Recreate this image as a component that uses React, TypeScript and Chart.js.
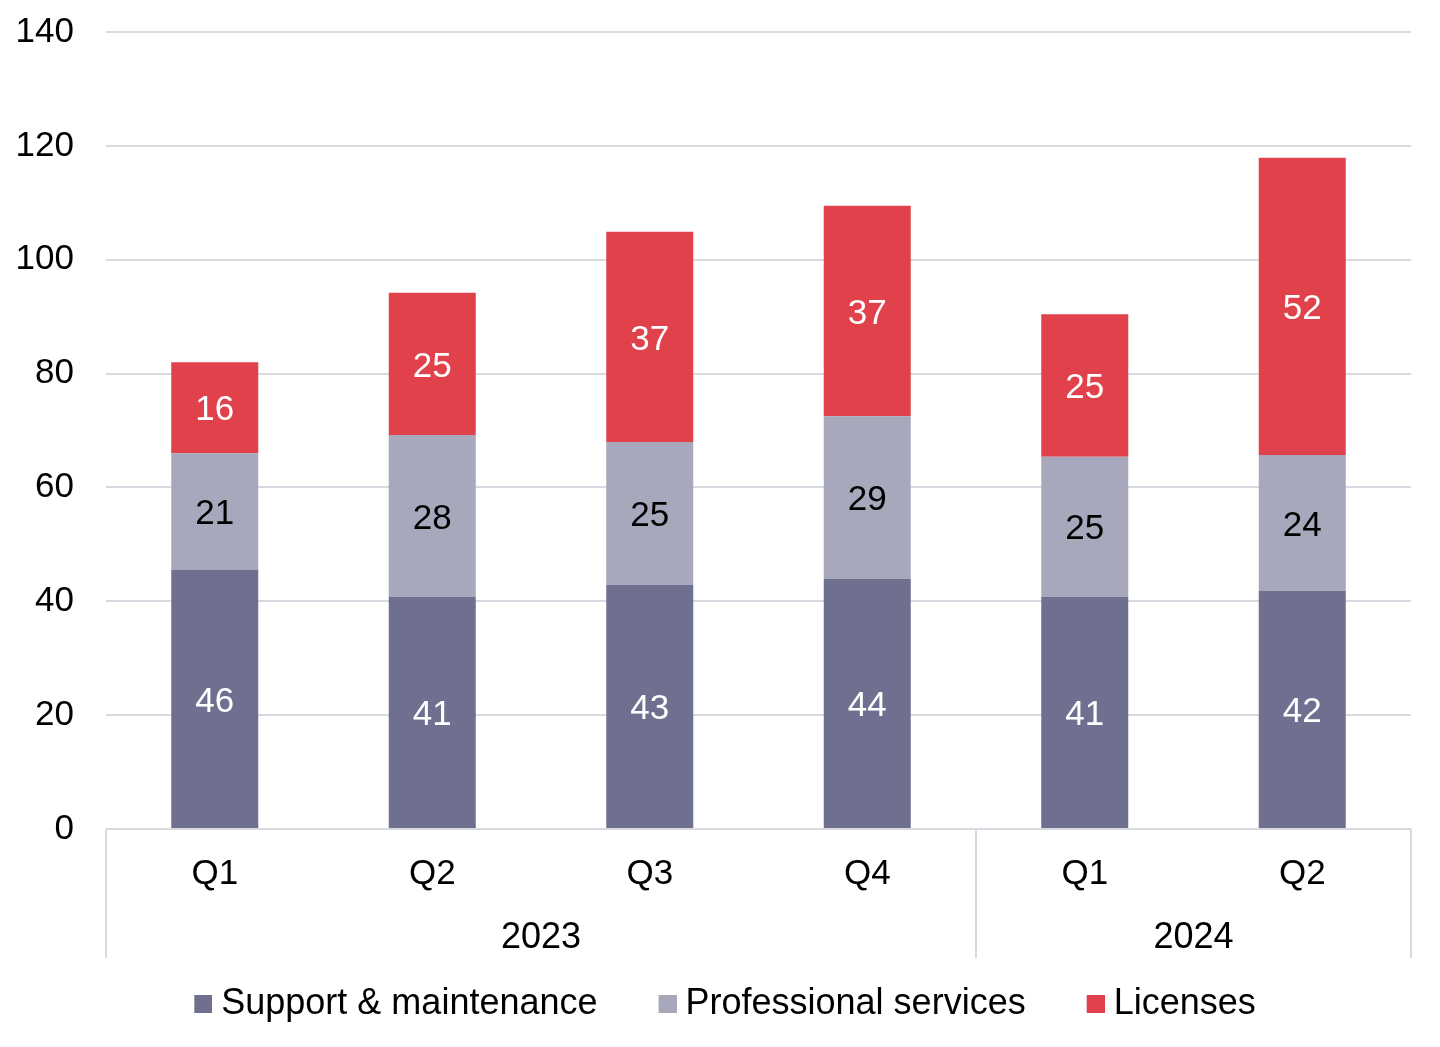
import React, { useEffect, useRef } from "react";
import { Chart, registerables } from "chart.js";

Chart.register(...registerables);

const quarters = ["Q1", "Q2", "Q3", "Q4", "Q1", "Q2"];
const years = ["2023", "2024"];
const quartersPerYear = [4, 2];
const supportMaintenance = [45.5, 40.8, 42.9, 43.9, 40.8, 41.8];
const professionalServices = [20.5, 28.4, 25.1, 28.6, 24.6, 23.9];
const licenses = [16.0, 25.0, 36.9, 37.0, 25.0, 52.2];
const seriesNames = ["Support & maintenance", "Professional services", "Licenses"];
const seriesColors = ["#6f7090", "#a7a8bb", "#e0414a"];
const labelColors = ["#ffffff", "#000000", "#ffffff"];
const yMin = 0;
const yMax = 140;
const yStep = 20;

const FONT = "'Liberation Sans', Arial, sans-serif";
const GRID = "#d9d9e2";

function makeSwatch(color: string) {
  const c = document.createElement("canvas");
  c.width = 27;
  c.height = 18;
  const g = c.getContext("2d");
  if (g) {
    g.fillStyle = color;
    g.fillRect(9, 0, 18, 18);
  }
  return c;
}

const barLabelPlugin = {
  id: "barLabels",
  afterDatasetsDraw(chart: any) {
    const ctx = chart.ctx;
    ctx.save();
    ctx.font = `35px ${FONT}`;
    ctx.textAlign = "center";
    ctx.textBaseline = "middle";
    chart.data.datasets.forEach((ds: any, di: number) => {
      const meta = chart.getDatasetMeta(di);
      meta.data.forEach((el: any, i: number) => {
        const p = el.getProps(["x", "y", "base"], true);
        ctx.fillStyle = labelColors[di];
        ctx.fillText(String(Math.round(ds.data[i])), p.x, (p.y + p.base) / 2 + 3);
      });
    });
    ctx.restore();
  },
};

const yearGroupPlugin = {
  id: "yearGroups",
  afterDraw(chart: any) {
    const ctx = chart.ctx;
    const xs = chart.scales.x;
    const area = chart.chartArea;
    const half = (xs.getPixelForValue(1) - xs.getPixelForValue(0)) / 2;
    ctx.save();
    ctx.strokeStyle = GRID;
    ctx.lineWidth = 2;
    ctx.fillStyle = "#000";
    ctx.font = `36px ${FONT}`;
    ctx.textAlign = "center";
    ctx.textBaseline = "middle";
    const bottom = area.bottom + 129;
    let start = 0;
    const edges: number[] = [];
    years.forEach((yr, gi) => {
      const n = quartersPerYear[gi];
      const l = xs.getPixelForValue(start) - half;
      const r = xs.getPixelForValue(start + n - 1) + half;
      if (gi === 0) edges.push(l);
      edges.push(r);
      ctx.fillText(yr, (l + r) / 2, area.bottom + 109);
      start += n;
    });
    edges.forEach((e) => {
      ctx.beginPath();
      ctx.moveTo(e, area.bottom);
      ctx.lineTo(e, bottom);
      ctx.stroke();
    });
    ctx.restore();
  },
};

const legendShiftPlugin = {
  id: "legendShift",
  afterLayout(chart: any) {
    const lg = chart.legend;
    if (lg) {
      lg.left += 19.5;
      lg.right += 19.5;
      lg.top += 2;
      lg.bottom += 2;
    }
  },
};

export default function App() {
  const ref = useRef<HTMLCanvasElement | null>(null);
  useEffect(() => {
    document.body.style.margin = "0";
    if (!ref.current) return;
    Chart.defaults.font.family = FONT;
    const values = [supportMaintenance, professionalServices, licenses];
    const swatches = seriesColors.map(makeSwatch);
    const chart = new Chart(ref.current, {
      type: "bar",
      data: {
        labels: quarters,
        datasets: values.map((v, i) => ({
          label: seriesNames[i],
          data: v,
          backgroundColor: seriesColors[i],
          borderWidth: 0,
          categoryPercentage: 1,
          barPercentage: 0.4,
        })),
      },
      options: {
        responsive: false,
        animation: false,
        devicePixelRatio: 1,
        layout: { padding: { top: 32, right: 29, left: 0, bottom: 17 } },
        plugins: {
          tooltip: { enabled: false },
          legend: {
            position: "bottom",
            labels: {
              color: "#000",
              font: { size: 36, family: FONT },
              usePointStyle: true,
              pointStyleWidth: 9,
              boxWidth: 18,
              boxHeight: 18,
              padding: 61,
              generateLabels(chart: any) {
                const items = Chart.defaults.plugins.legend.labels.generateLabels(chart);
                return items.map((it: any, i: number) => ({
                  ...it,
                  pointStyle: swatches[i],
                  lineWidth: 0,
                }));
              },
            },
          },
        },
        scales: {
          x: {
            stacked: true,
            grid: { display: false, drawTicks: false },
            border: { display: false },
            ticks: {
              color: "#000",
              font: { size: 35, family: FONT },
              padding: 24,
              maxRotation: 0,
              autoSkip: false,
            },
            afterFit(scale: any) {
              scale.height = 94;
            },
          },
          y: {
            stacked: true,
            min: yMin,
            max: yMax,
            grid: { color: GRID, lineWidth: 2, drawTicks: false },
            border: { display: false },
            ticks: {
              stepSize: yStep,
              color: "#000",
              font: { size: 35, family: FONT },
              padding: 32,
            },
            afterFit(scale: any) {
              scale.width = 106;
              scale.paddingTop = 0;
              scale.paddingBottom = 0;
            },
          },
        },
      },
      plugins: [barLabelPlugin, yearGroupPlugin, legendShiftPlugin],
    });
    return () => chart.destroy();
  }, []);
  return (
    <div style={{ width: 1440, height: 1047 }}>
      <canvas ref={ref} width={1440} height={1047} />
    </div>
  );
}
